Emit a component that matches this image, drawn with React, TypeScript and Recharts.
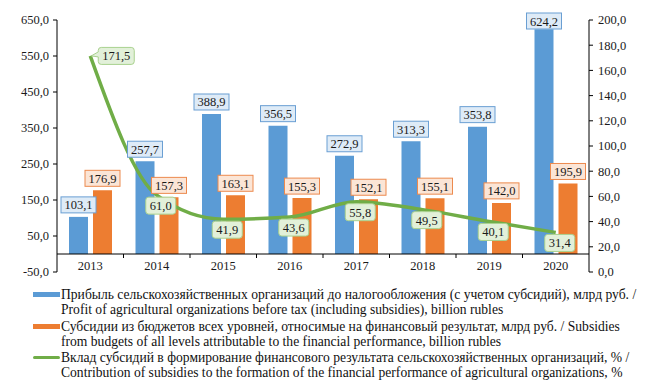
import { Bar, ComposedChart, LabelList, Line, ReferenceLine, XAxis, YAxis } from "recharts"

const years = ['2013', '2014', '2015', '2016', '2017', '2018', '2019', '2020']
const profit = [103.1, 257.7, 388.9, 356.5, 272.9, 313.3, 353.8, 624.2]
const subsidies = [176.9, 157.3, 163.1, 155.3, 152.1, 155.1, 142.0, 195.9]
const contribution = [171.5, 61.0, 41.9, 43.6, 55.8, 49.5, 40.1, 31.4]

const leftTicks = [-50, 50, 150, 250, 350, 450, 550, 650]
const rightTicks = [0, 20, 40, 60, 80, 100, 120, 140, 160, 180, 200]

const profitLegend = [
  'Прибыль сельскохозяйственных организаций до налогообложения (с учетом субсидий), млрд руб. /',
  'Profit of agricultural organizations before tax (including subsidies), billion rubles',
]
const subsidiesLegend = [
  'Субсидии из бюджетов всех уровней, относимые на финансовый результат, млрд руб. / Subsidies',
  'from budgets of all levels attributable to the financial performance, billion rubles',
]
const contributionLegend = [
  'Вклад субсидий в формирование финансового результата сельскохозяйственных организаций, % /',
  'Contribution of subsidies to the formation of the financial performance of agricultural organizations, %',
]

const BLUE = '#5B9BD5'
const ORANGE = '#ED7D31'
const GREEN = '#70AD47'
const FONT = 'Liberation Serif, DejaVu Serif, serif'

const W = 640
const H = 374
const TOP = 12
const PLOT_H = 252
const PLOT_W = 532
const BAND = PLOT_W / years.length
const ZERO_Y = TOP + PLOT_H * 650 / 700

const fmt = (v: number) => v.toFixed(1).replace('.', ',')

const data = years.map((year, i) => ({
  year,
  profit: profit[i],
  subsidies: subsidies[i],
  contribution: contribution[i],
}))

const barLabel = (fill: string, stroke: string) => (props: any) => {
  const { x, y, width, value } = props
  const cx = x + width / 2
  const w = 35
  const h = 16
  const top = Math.max(y - h - 4, TOP - 7)
  return (
    <g>
      <rect x={cx - w / 2} y={top} width={w} height={h} fill={fill} stroke={stroke} strokeWidth={1} />
      <text x={cx} y={top + h / 2 + 0.5} textAnchor="middle" dominantBaseline="central" fontSize={12.5} style={{ fontFamily: FONT }} fill="#1a1a1a">
        {fmt(value)}
      </text>
    </g>
  )
}

const lineLabel = (props: any) => {
  const { x, y, value, index } = props
  const txt = fmt(value)
  const w = txt.length * 6 + 6
  const h = 17
  const r = 3
  if (index === 0) {
    const left = x + 8
    const right = left + w
    const top = y - h / 2
    const bottom = y + h / 2
    const d = `M ${left + r} ${top} H ${right - r} Q ${right} ${top} ${right} ${top + r} V ${bottom - r} Q ${right} ${bottom} ${right - r} ${bottom} H ${left + r} Q ${left} ${bottom} ${left} ${bottom - r} V ${y + 1} L ${x + 1} ${y} L ${left} ${y - 4} V ${top + r} Q ${left} ${top} ${left + r} ${top} Z`
    return (
      <g>
        <path d={d} fill="#E2F0D9" stroke="#A9D18E" strokeWidth={1} />
        <text x={left + w / 2} y={y + 0.5} textAnchor="middle" dominantBaseline="central" fontSize={12.5} style={{ fontFamily: FONT }} fill="#1a1a1a">
          {txt}
        </text>
      </g>
    )
  }
  const cx = x + 4
  const top = y + 2
  return (
    <g>
      <rect x={cx - w / 2} y={top} width={w} height={h} rx={r} fill="#E2F0D9" stroke="#A9D18E" strokeWidth={1} />
      <text x={cx} y={top + h / 2 + 0.5} textAnchor="middle" dominantBaseline="central" fontSize={12.5} style={{ fontFamily: FONT }} fill="#1a1a1a">
        {txt}
      </text>
    </g>
  )
}

const YearTick = (props: any) => {
  const { x, y, payload, index } = props
  return (
    <g>
      {index > 0 && <line x1={x - BAND / 2} x2={x - BAND / 2} y1={ZERO_Y} y2={ZERO_Y + 4} stroke="#000" />}
      <text x={x} y={y - 6} textAnchor="middle" dominantBaseline="central" fontSize={12.5} style={{ fontFamily: FONT }} fill="#1a1a1a">
        {payload.value}
      </text>
    </g>
  )
}

const legendItems = [
  { lines: profitLegend, color: BLUE, kind: 'bar' },
  { lines: subsidiesLegend, color: ORANGE, kind: 'bar' },
  { lines: contributionLegend, color: GREEN, kind: 'line' },
]

function ChartLegend() {
  return (
    <div style={{ position: 'absolute', left: 25, top: 278.5, fontFamily: FONT, fontSize: 13.6, lineHeight: '15px', color: '#111' }}>
      {legendItems.map((item, i) => (
        <div key={i} style={{ position: 'relative', paddingLeft: 28, marginBottom: i === 0 ? 2 : 1 }}>
          <div
            style={{
              position: 'absolute',
              left: 0,
              top: item.kind === 'bar' ? 5 : 6,
              width: 27,
              height: item.kind === 'bar' ? 5 : 3,
              background: item.color,
              borderRadius: item.kind === 'line' ? 2 : 0,
            }}
          />
          {item.lines.map((l, j) => (
            <div key={j} style={{ whiteSpace: 'nowrap' }}>{l}</div>
          ))}
        </div>
      ))}
    </div>
  )
}

const axisTick = { fontSize: 12.5, fill: '#1a1a1a', style: { fontFamily: FONT } }

export default function App() {
  return (
    <div style={{ position: 'relative', width: W, height: H, fontFamily: FONT }}>
      <ComposedChart width={W} height={H} data={data} margin={{ top: TOP, right: 0, bottom: 90, left: 0 }} barSize={19} barGap={5} style={{ fontFamily: FONT }}>
        <XAxis dataKey="year" axisLine={false} tickLine={false} tickSize={0} tickMargin={0} height={20} tick={<YearTick />} interval={0} />
        <YAxis
          yAxisId="left"
          domain={[-50, 650]}
          ticks={leftTicks}
          width={49}
          tickSize={4}
          tickMargin={4}
          tickFormatter={fmt}
          axisLine={{ stroke: '#000' }}
          tickLine={{ stroke: '#000' }}
          tick={axisTick}
          interval={0}
        />
        <YAxis
          yAxisId="right"
          orientation="right"
          domain={[0, 200]}
          ticks={rightTicks}
          width={59}
          tickSize={4}
          tickMargin={5}
          tickFormatter={fmt}
          axisLine={{ stroke: '#000' }}
          tickLine={{ stroke: '#000' }}
          tick={axisTick}
          interval={0}
        />
        <ReferenceLine yAxisId="left" y={0} stroke="#000" />
        <Bar yAxisId="left" dataKey="profit" fill={BLUE} isAnimationActive={false}>
          <LabelList dataKey="profit" content={barLabel('#DEEBF7', '#6A9FD3')} />
        </Bar>
        <Bar yAxisId="left" dataKey="subsidies" fill={ORANGE} isAnimationActive={false}>
          <LabelList dataKey="subsidies" content={barLabel('#FBE5D6', '#EC8A4E')} />
        </Bar>
        <Line yAxisId="right" type="monotone" dataKey="contribution" stroke={GREEN} strokeWidth={3.5} dot={false} isAnimationActive={false}>
          <LabelList dataKey="contribution" content={lineLabel} />
        </Line>
      </ComposedChart>
      <ChartLegend />
    </div>
  )
}
